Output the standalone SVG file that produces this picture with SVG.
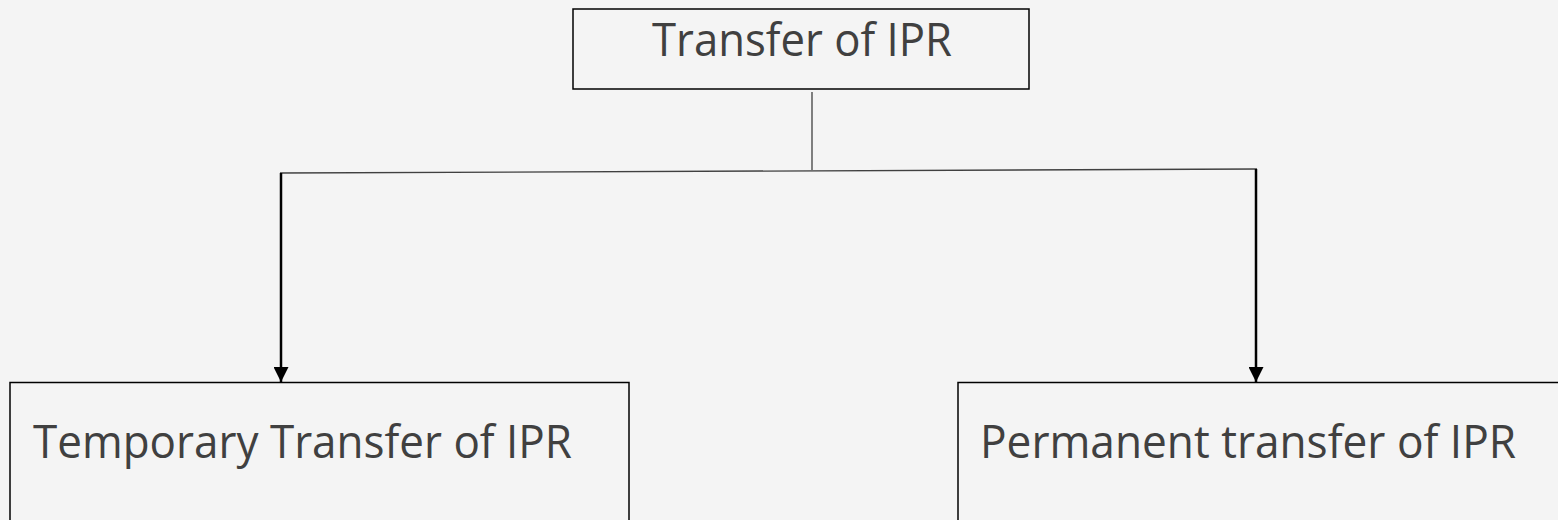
<svg xmlns="http://www.w3.org/2000/svg" width="1558" height="520" viewBox="0 0 1558 520">
<defs>
<style>
.box{fill:#f4f4f4;stroke:#000;stroke-width:1.5}
.lbl{font-family:"Open Sans","Noto Sans",sans-serif;font-size:46px;fill:#404040}
.thin{stroke:#404040;stroke-width:1.3;fill:none}
.arr{stroke:#000;stroke-width:2.5;fill:none;marker-end:url(#ah)}
</style>
<marker id="ah" markerWidth="6" markerHeight="6" refX="6" refY="3" orient="auto" markerUnits="strokeWidth">
<path d="M0,0 L6,3 L0,6 Z" fill="#000"/>
</marker>
</defs>
<rect width="1558" height="520" fill="#f4f4f4"/>
<g id="connectors">
<line class="thin" x1="812" y1="92" x2="812" y2="170"/>
<line class="thin" x1="280" y1="173" x2="1257" y2="169"/>
<path class="arr" d="M281,173 V382"/>
<path class="arr" d="M1256,169 V382"/>
</g>
<g id="node-top">
<rect class="box" x="573" y="9" width="456" height="80"/>
<text class="lbl" x="652" y="56" textLength="300" lengthAdjust="spacingAndGlyphs">Transfer of IPR</text>
</g>
<g id="node-temporary">
<rect class="box" x="10" y="382.5" width="619" height="160"/>
<text class="lbl" x="33" y="458" textLength="539" lengthAdjust="spacingAndGlyphs">Temporary Transfer of IPR</text>
</g>
<g id="node-permanent">
<rect class="box" x="958" y="382.5" width="620" height="160"/>
<text class="lbl" x="980" y="458" textLength="536" lengthAdjust="spacingAndGlyphs">Permanent transfer of IPR</text>
</g>
</svg>
